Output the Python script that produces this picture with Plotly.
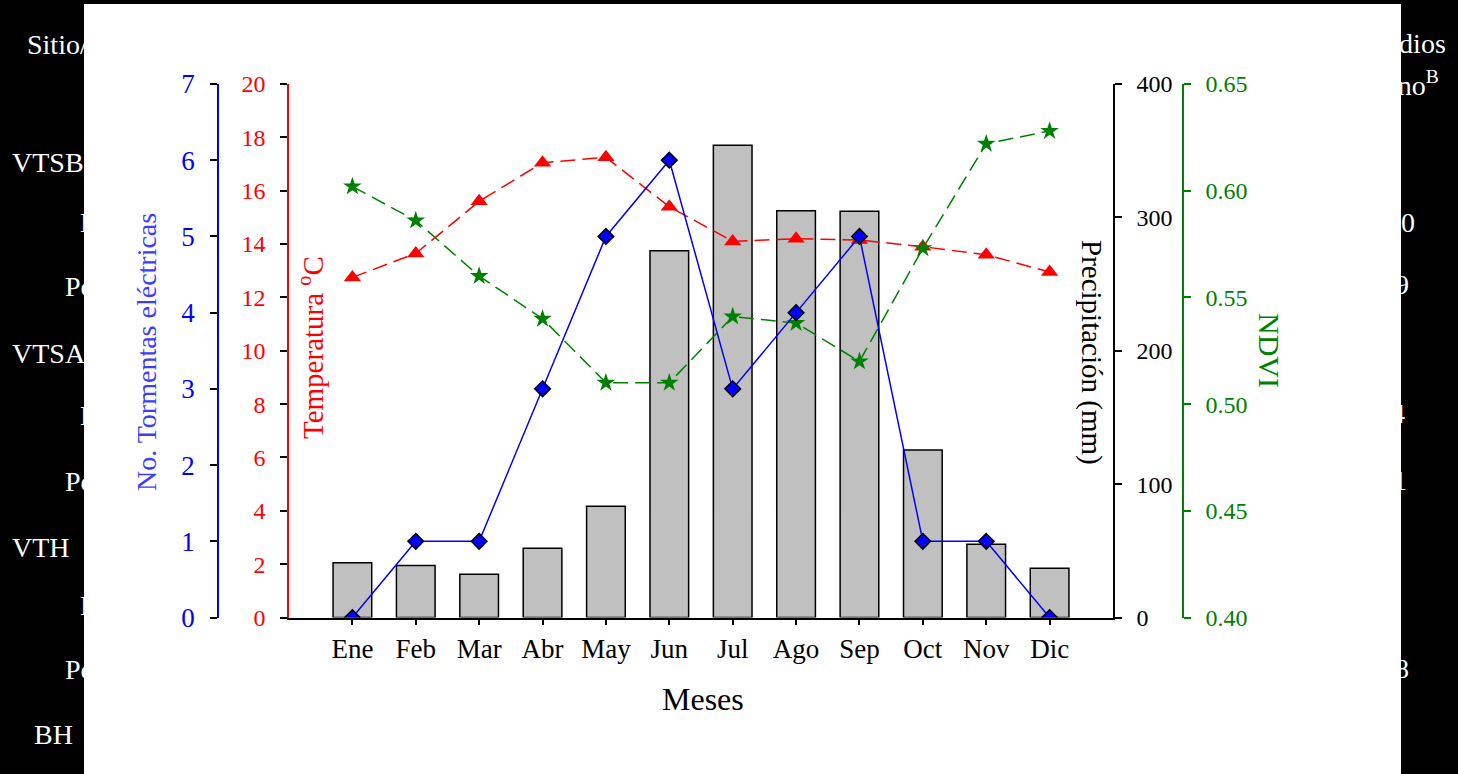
import plotly.graph_objects as go

W, H = 1458, 774
FONT = "Liberation Serif"

months = ["Ene", "Feb", "Mar", "Abr", "May", "Jun", "Jul", "Ago", "Sep", "Oct", "Nov", "Dic"]
precip_mm = [41, 39, 32.5, 52, 83.5, 275, 354, 305, 304.5, 125.5, 55, 37]
tormentas = [0, 1, 1, 3, 5, 6, 3, 4, 5, 1, 1, 0]
temperatura = [12.75, 13.65, 15.6, 17.05, 17.25, 15.4, 14.1, 14.2, 14.15, 13.9, 13.6, 12.95]
ndvi = [0.602, 0.586, 0.560, 0.540, 0.510, 0.510, 0.541, 0.538, 0.520, 0.573, 0.622, 0.628]

# fragments of the table behind the figure (white text on black)
left_texts = [("Sitio/", 25, 45), ("VTSB", 10, 163), ("N", 78, 222), ("Po", 63, 286),
              ("VTSA", 10, 353), ("N", 78, 415), ("Po", 63, 481), ("VTH", 10, 547),
              ("N", 78, 605), ("Po", 63, 669), ("BH", 32, 734)]
right_texts = [("Promedios", 1448, 43), ("Invierno<sup>B</sup>", 1441, 84), ("2.0", 1417, 222),
               ("0.9", 1411, 284), ("1.4", 1407, 413), ("1.1", 1409, 480), ("0.8", 1411, 668)]


def px(x):
    return x / W


def py(y):
    return 1 - y / H


fig = go.Figure()
fig.add_trace(go.Bar(x=months, y=precip_mm, yaxis="y", width=0.61,
                     marker=dict(color="#c0c0c0", line=dict(color="black", width=1.5))))
fig.add_trace(go.Scatter(x=months, y=temperatura, yaxis="y2", mode="lines+markers",
                         line=dict(color="red", width=1.5, dash="15px,7px"),
                         marker=dict(symbol="triangle-up", size=15, color="red")))
fig.add_trace(go.Scatter(x=months, y=ndvi, yaxis="y3", mode="lines+markers",
                         line=dict(color="#008000", width=1.5, dash="15px,7px"),
                         marker=dict(symbol="star", size=14, color="#008000")))
fig.add_trace(go.Scatter(x=months, y=tormentas, yaxis="y4", mode="lines+markers",
                         line=dict(color="blue", width=1.5),
                         marker=dict(symbol="diamond", size=12, color="blue",
                                     line=dict(color="black", width=1.5))))

common = dict(showgrid=False, zeroline=False, showline=True, linewidth=1.5, automargin=False,
              ticks="outside", ticklen=7, tickwidth=1.5, ticklabelstandoff=10)

fig.update_layout(
    template="none",
    width=W, height=H, margin=dict(l=0, r=0, t=0, b=0, pad=0), autosize=False,
    paper_bgcolor="black", plot_bgcolor="white", showlegend=False,
    font=dict(family=FONT),
    xaxis=dict(domain=[px(289), px(1113)], range=[-1, 12], type="category", automargin=False,
               showgrid=False, zeroline=False, showline=True, linewidth=1.5, linecolor="black",
               ticks="outside", ticklen=6, tickwidth=1.5, tickcolor="black",
               tickfont=dict(family=FONT, size=27, color="black")),
    yaxis=dict(domain=[py(617.5), py(84)], range=[0, 400], dtick=100, side="right", anchor="x",
               linecolor="black", tickcolor="black",
               tickfont=dict(family=FONT, size=24, color="black"), **common),
    yaxis2=dict(overlaying="y", side="left", anchor="x", range=[0, 20], dtick=2,
                linecolor="red", tickcolor="black",
                tickfont=dict(family=FONT, size=24, color="red"), **common),
    yaxis3=dict(overlaying="y", side="right", anchor="free", position=px(1183),
                range=[0.40, 0.65], dtick=0.05, tick0=0.4, tickformat=".2f",
                linecolor="#008000", tickcolor="#008000",
                tickfont=dict(family=FONT, size=24, color="#008000"), **common),
    yaxis4=dict(overlaying="y", side="left", anchor="free", position=px(218),
                range=[0, 7], dtick=1, linecolor="blue", tickcolor="black",
                tickfont=dict(family=FONT, size=27, color="blue"), **common),
)

fig.add_shape(type="rect", xref="paper", yref="paper", x0=px(84), x1=px(1401), y0=0, y1=py(4),
              fillcolor="white", line=dict(width=0), layer="below")

annots = []
for t, x, y in left_texts:
    annots.append(dict(text=t, x=px(x), y=py(y), xanchor="left", yanchor="middle",
                       font=dict(family=FONT, size=28, color="white")))
for t, x, y in right_texts:
    annots.append(dict(text=t, x=px(x), y=py(y), xanchor="right", yanchor="middle",
                       font=dict(family=FONT, size=28, color="white")))

titles = [
    ("No. Tormentas eléctricas", 146, 352, -90, "#3c3cff", 28),
    ("Temperatura <sup>o</sup>C", 311, 348, -90, "red", 29),
    ("Precipitación (mm)", 1092, 352, 90, "black", 29),
    ("NDVI", 1270, 350, 90, "#008000", 30),
    ("Meses", 703, 699, 0, "black", 32),
]
for t, x, y, ang, col, sz in titles:
    annots.append(dict(text=t, x=px(x), y=py(y), xanchor="center", yanchor="middle",
                       textangle=ang, font=dict(family=FONT, size=sz, color=col)))

for a in annots:
    a.update(xref="paper", yref="paper", showarrow=False)
fig.update_layout(annotations=annots)

fig.write_html("out.html", config={"displayModeBar": False},
               post_script="document.body.style.margin='0';document.body.style.background='black';")
